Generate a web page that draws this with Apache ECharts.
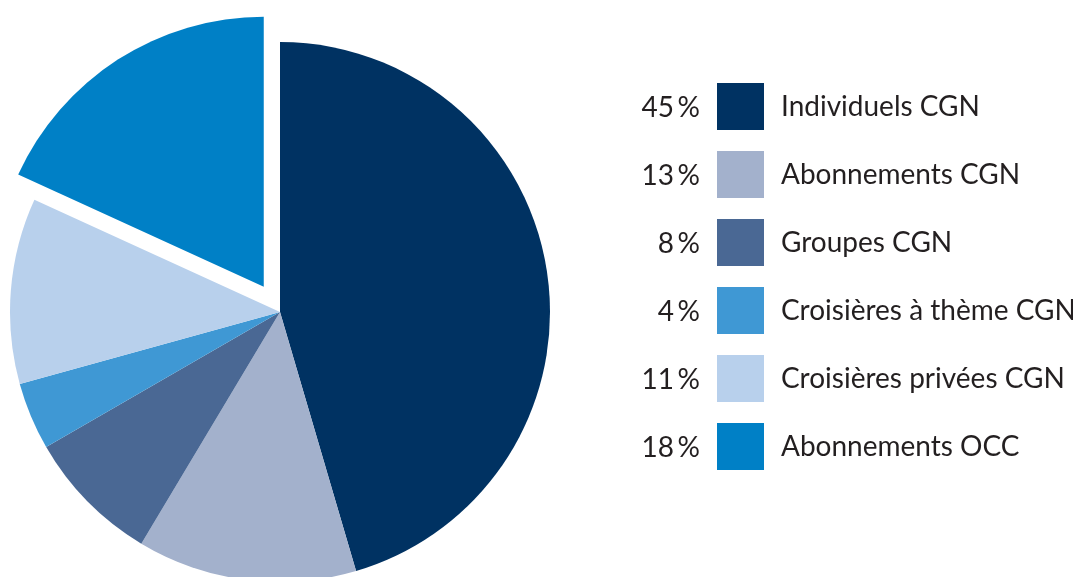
<!DOCTYPE html>
<html><head><meta charset="utf-8">
<style>html,body{margin:0;padding:0;background:#fff;}#c{width:1073px;height:577px;}</style>
<script src="https://cdn.jsdelivr.net/npm/echarts@6/dist/echarts.min.js"></script>
</head><body><div id="c"></div>
<script>
const categories = ['Individuels CGN','Abonnements CGN','Groupes CGN','Croisières à thème CGN','Croisières privées CGN','Abonnements OCC'];
const values = [45,13,8,4,11,18];
const colors = ['#003262','#a3b1cc','#4a6894','#3f98d4','#b8d0ec','#0080c6'];
const percentLabels = ['45\u2009%','13\u2009%','8\u2009%','4\u2009%','11\u2009%','18\u2009%'];

const chart = echarts.init(document.getElementById('c'));
const fontFamily = 'Lato';
const textColor = '#231f20';
const legendTop = 83, rowH = 68, boxH = 47;

chart.setOption({
  animation:false,
  color: colors,
  legend: {
    orient:'vertical', left:717, top:legendTop, padding:0,
    itemWidth:boxH, itemHeight:boxH, itemGap:rowH-boxH,
    icon:'rect', selectedMode:false,
    data: categories,
    textStyle:{fontFamily, fontSize:28, color:textColor, padding:[0,0,0,12]}
  },
  graphic: percentLabels.map((t,i)=>({
    type:'text', x:700, y: legendTop + i*rowH + boxH/2 + 1,
    style:{text:t, font:'28px '+fontFamily, fill:textColor, textAlign:'right', textVerticalAlign:'middle'}
  })),
  series:[{
    type:'pie', center:[280,312], radius:270, startAngle:90, clockwise:true,
    label:{show:false}, labelLine:{show:false},
    selectedMode:'single', selectedOffset:30,
    emphasis:{disabled:true},
    itemStyle:{borderWidth:0},
    data: categories.map((n,i)=>({name:n, value:values[i], selected: i===5}))
  }]
});
</script></body></html>
